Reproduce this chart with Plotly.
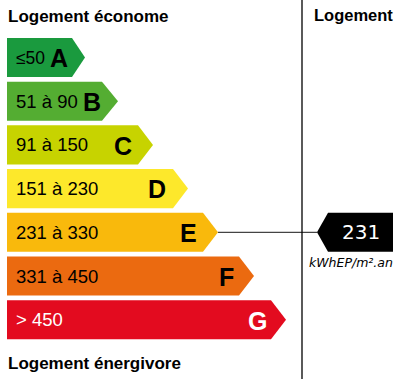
import plotly.graph_objects as go

# ---- data ----
classes = ["A", "B", "C", "D", "E", "F", "G"]
range_labels = ["≤50", "51 à 90", "91 à 150", "151 à 230", "231 à 330", "331 à 450", "> 450"]
upper_bounds = [50, 90, 150, 230, 330, 450, None]
value = 231
unit_label = "kWhEP/m².an"
title_top = "Logement économe"
title_bottom = "Logement énergivore"
title_right = "Logement"

# ---- styles / geometry ----
colors = ["#1a9a3e", "#54ad32", "#c7d300", "#fde82b", "#f9b90c", "#eb6a10", "#e30b1f"]
text_colors = ["black"] * 6 + ["white"]
bar_ends = [72, 102, 138, 173, 203, 239, 271]   # x where the arrow tip starts
letter_right = [70, 103, 134, 168, 199, 236, 269]
tips = [13, 16, 15, 15, 15, 15, 15]
x0 = 7
half_h = 0.447
W, H = 400, 379
pitch = 43.7
first_center = 57.5
FONT = "Liberation Sans, Arial"

def cls_index(v):
    for i, ub in enumerate(upper_bounds):
        if ub is None or v <= ub:
            return i
    return len(classes) - 1

fig = go.Figure()
annotations = []
for i, c in enumerate(classes):
    e = bar_ends[i]
    t = tips[i]
    xs = [x0, e, e + t, e, x0, x0]
    ys = [i - half_h, i - half_h, i, i + half_h, i + half_h, i - half_h]
    fig.add_trace(go.Scatter(x=xs, y=ys, mode="lines", fill="toself",
                             fillcolor=colors[i], line=dict(width=0),
                             hoverinfo="skip", showlegend=False))
    annotations.append(dict(x=14, y=i, text=range_labels[i], xanchor="left", yanchor="middle",
                            showarrow=False,
                            font=dict(family=FONT, size=18.5 if i else 17.5,
                                      color=text_colors[i])))
    annotations.append(dict(x=letter_right[i], y=i + 0.02, text="<b>%s</b>" % c, xanchor="right",
                            yanchor="middle", showarrow=False,
                            font=dict(family=FONT, size=25, color=text_colors[i])))

k = cls_index(value)
ptip = 317
# connector line
fig.add_trace(go.Scatter(x=[bar_ends[k] + tips[k], ptip], y=[k, k], mode="lines",
                         line=dict(color="#444444", width=1.2), hoverinfo="skip", showlegend=False))
# black pointer
fig.add_trace(go.Scatter(x=[ptip, 328, 393, 393, 328, ptip], y=[k, k - 0.447, k - 0.447, k + 0.447, k + 0.447, k],
                         mode="lines", fill="toself", fillcolor="black", line=dict(width=0),
                         hoverinfo="skip", showlegend=False))
annotations.append(dict(x=361, y=k, text=str(value), xanchor="center", yanchor="middle", showarrow=False,
                        font=dict(family="DejaVu Sans", size=20, color="white")))
annotations.append(dict(x=351, y=k + 0.7, text="<i>%s</i>" % unit_label, xanchor="center", yanchor="middle",
                        showarrow=False, font=dict(family="DejaVu Sans", size=12.5, color="black")))

# titles
def ypix(p):
    return (p - first_center) / pitch

annotations.append(dict(x=6, y=ypix(16), text="<b>%s</b>" % title_top, xanchor="left", yanchor="middle",
                        showarrow=False, font=dict(family=FONT, size=17, color="black")))
annotations.append(dict(x=6, y=ypix(363), text="<b>%s</b>" % title_bottom, xanchor="left", yanchor="middle",
                        showarrow=False, font=dict(family=FONT, size=17, color="black")))
annotations.append(dict(x=312, y=ypix(15), text="<b>%s</b>" % title_right, xanchor="left", yanchor="middle",
                        showarrow=False, font=dict(family=FONT, size=16.5, color="black")))

fig.update_layout(
    width=W, height=H, margin=dict(l=0, r=0, t=0, b=0),
    paper_bgcolor="white", plot_bgcolor="white",
    xaxis=dict(range=[0, W], visible=False, fixedrange=True),
    yaxis=dict(range=[(H - first_center) / pitch, -first_center / pitch], visible=False, fixedrange=True),
    annotations=annotations,
    shapes=[dict(type="line", xref="paper", yref="paper", x0=302 / W, x1=302 / W, y0=0, y1=1,
                 line=dict(color="black", width=1.3))],
    showlegend=False,
)

fig.write_html("out.html", config={"displayModeBar": False},
               post_script="document.body.style.margin='0';document.body.style.overflow='hidden';")
